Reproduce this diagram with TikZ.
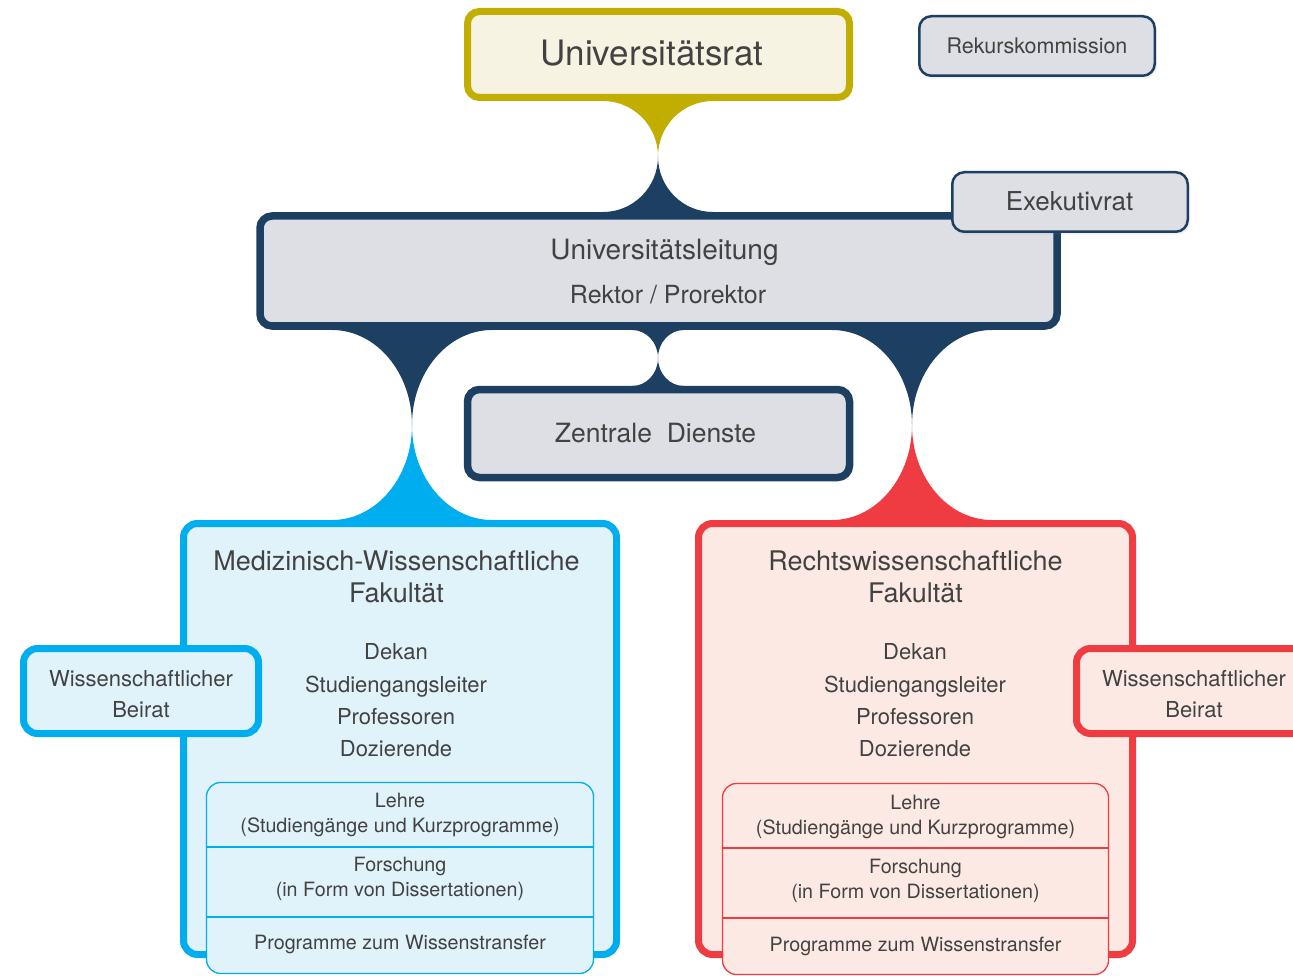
\documentclass[tikz,border=0pt]{standalone}
\usepackage{fontspec}
\setmainfont{TeX Gyre Heros}
\usetikzlibrary{shadows}
\definecolor{colOlive}{RGB}{193,174,0}
\definecolor{colOliveFill}{RGB}{246,243,226}
\definecolor{colNavy}{RGB}{29,63,98}
\definecolor{colGrey}{RGB}{222,223,228}
\definecolor{colCyan}{RGB}{0,174,239}
\definecolor{colCyanFill}{RGB}{224,242,250}
\definecolor{colRed}{RGB}{239,60,66}
\definecolor{colRedFill}{RGB}{252,233,227}
\definecolor{colTxt}{RGB}{66,66,66}
\tikzset{
  box/.style={rounded corners=12pt, inner sep=0pt, anchor=center,
    drop shadow={opacity=0.10, shadow xshift=2pt, shadow yshift=-3pt}},
  boxOlive/.style={box, draw=colOlive, fill=colOliveFill, line width=7pt},
  boxNavyThick/.style={box, draw=colNavy, fill=colGrey, line width=7.5pt},
  boxNavyThin/.style={box, draw=colNavy, fill=colGrey, line width=2.5pt},
  boxCyan/.style={box, draw=colCyan, fill=colCyanFill, line width=7pt, rounded corners=14pt},
  boxRed/.style={box, draw=colRed, fill=colRedFill, line width=7pt, rounded corners=14pt},
  innerCyan/.style={rounded corners=14pt, inner sep=0pt, anchor=center, draw=colCyan, fill=colCyanFill, line width=1.3pt},
  innerRed/.style={rounded corners=14pt, inner sep=0pt, anchor=center, draw=colRed, fill=colRedFill, line width=1.3pt},
  txt/.style={anchor=base, text=colTxt, inner sep=0pt},
  fA/.style={font=\fontsize{35}{42}\selectfont},
  fB/.style={font=\fontsize{28}{34}\selectfont},
  fC/.style={font=\fontsize{26.5}{32}\selectfont},
  fD/.style={font=\fontsize{25}{30}\selectfont},
  fE/.style={font=\fontsize{22}{26}\selectfont},
  fF/.style={font=\fontsize{21.5}{26}\selectfont},
  fG/.style={font=\fontsize{19.7}{24}\selectfont},
  fTitle/.style={font=\fontsize{27}{32}\selectfont},
  fExe/.style={font=\fontsize{26}{31}\selectfont},
}
\begin{document}
\begin{tikzpicture}[x=1pt,y=-1pt]
\useasboundingbox (0,0) rectangle (1293,976);
\clip (0,0) rectangle (1293,976);

% ---- connectors ----
% Universitaetsrat -> Universitaetsleitung
\fill[colOlive] (603,95) -- (603,101) .. controls (633.4,101) and (658,125.8) .. (658,156.5)
  .. controls (658,125.8) and (682.6,101) .. (713,101) -- (713,95) -- cycle;
\fill[colNavy] (603,218) -- (603,212) .. controls (633.4,212) and (658,187.2) .. (658,156.5)
  .. controls (658,187.2) and (682.6,212) .. (713,212) -- (713,218) -- cycle;
% Universitaetsleitung -> Zentrale Dienste
\fill[colNavy] (632,324) -- (632,330) .. controls (646.4,330) and (658,342.5) .. (658,358)
  .. controls (658,342.5) and (669.6,330) .. (684,330) -- (684,324) -- cycle;
\fill[colNavy] (632,392) -- (632,386) .. controls (646.4,386) and (658,373.5) .. (658,358)
  .. controls (658,373.5) and (669.6,386) .. (684,386) -- (684,392) -- cycle;
% Universitaetsleitung -> Med. Fakultaet
\fill[colNavy] (332,324) -- (332,330) .. controls (376.2,330) and (412,372.5) .. (412,425)
  .. controls (412,372.5) and (447.8,330) .. (492,330) -- (492,324) -- cycle;
\fill[colCyan] (332,526) -- (332,520) .. controls (376.2,520) and (412,477.5) .. (412,425)
  .. controls (412,477.5) and (447.8,520) .. (492,520) -- (492,526) -- cycle;
% Universitaetsleitung -> Rechts. Fakultaet
\fill[colNavy] (832,324) -- (832,330) .. controls (876.2,330) and (912,372.5) .. (912,425)
  .. controls (912,372.5) and (947.8,330) .. (992,330) -- (992,324) -- cycle;
\fill[colRed] (832,526) -- (832,520) .. controls (876.2,520) and (912,477.5) .. (912,425)
  .. controls (912,477.5) and (947.8,520) .. (992,520) -- (992,526) -- cycle;

% ---- boxes ----
\node[boxNavyThick, minimum width=797pt, minimum height=110pt] (ul) at (658.5,271) {};
\node[boxNavyThin, minimum width=235.5pt, minimum height=59.5pt] (exe) at (1070,202) {};
\node[boxOlive, minimum width=382pt, minimum height=86pt] (rat) at (658.5,54.5) {};
\node[boxNavyThin, minimum width=235.5pt, minimum height=59.5pt] (rek) at (1037,46) {};
\node[boxNavyThick, minimum width=382pt, minimum height=88pt] (zd) at (658.5,433.5) {};
\node[boxCyan, minimum width=433pt, minimum height=431pt] (med) at (400,739) {};
\node[boxRed, minimum width=434pt, minimum height=431pt] (rw) at (915.5,739) {};
\node[boxCyan, minimum width=235pt, minimum height=85pt] (beiL) at (141,691) {};
\node[boxRed, minimum width=235pt, minimum height=85pt] (beiR) at (1194,691) {};
\node[innerCyan, minimum width=387pt, minimum height=191pt] (inL) at (400,878) {};
\node[innerRed, minimum width=386pt, minimum height=191pt] (inR) at (915.5,879) {};
\coordinate (d1) at (0,847);
\coordinate (d2) at (0,917);
\coordinate (d3) at (0,848);
\coordinate (d4) at (0,918);
\draw[colCyan, line width=1.2pt] (inL.west |- d1) -- (inL.east |- d1);
\draw[colCyan, line width=1.2pt] (inL.west |- d2) -- (inL.east |- d2);
\draw[colRed, line width=1.2pt] (inR.west |- d3) -- (inR.east |- d3);
\draw[colRed, line width=1.2pt] (inR.west |- d4) -- (inR.east |- d4);

% ---- texts ----
\node[txt,fA] (tRat) at (652,65.6) {Universitätsrat};
\node[txt,fF] (tRek) at (1037,53.7) {Rekurskommission};
\node[txt,fExe] (tExe) at (1069.5,210.4) {Exekutivrat};
\node[txt,fB] (tUL) at (664.5,260) {Universitätsleitung};
\node[txt,fD] (tRP) at (668,304) {Rektor / Prorektor};
\node[txt,fC] (tZD) at (655.5,442.5) {Zentrale\ \ Dienste};

\node[txt,fTitle] (tMed1) at (396.5,570.7) {Medizinisch-Wissenschaftliche};
\node[txt,fTitle] (tMed2) at (396.5,602.7) {Fakultät};
\node[txt,fE] (tMedA) at (396,659) {Dekan};
\node[txt,fE] (tMedB) at (396,692) {Studiengangsleiter};
\node[txt,fE] (tMedC) at (396,724) {Professoren};
\node[txt,fE] (tMedD) at (396,756) {Dozierende};

\node[txt,fTitle] (tRw1) at (915.5,570.7) {Rechtswissenschaftliche};
\node[txt,fTitle] (tRw2) at (915.5,602.7) {Fakultät};
\node[txt,fE] (tRwA) at (915,659) {Dekan};
\node[txt,fE] (tRwB) at (915,692) {Studiengangsleiter};
\node[txt,fE] (tRwC) at (915,724) {Professoren};
\node[txt,fE] (tRwD) at (915,756) {Dozierende};

\node[txt,fE] (tBL1) at (141,686) {Wissenschaftlicher};
\node[txt,fE] (tBL2) at (141,717) {Beirat};
\node[txt,fE] (tBR1) at (1194,686) {Wissenschaftlicher};
\node[txt,fE] (tBR2) at (1194,717) {Beirat};

\node[txt,fG] (tLL1) at (400,807) {Lehre};
\node[txt,fG] (tLL2) at (400,832) {(Studiengänge und Kurzprogramme)};
\node[txt,fG] (tLF1) at (400,871) {Forschung};
\node[txt,fG] (tLF2) at (400,896) {(in Form von Dissertationen)};
\node[txt,fG] (tLP) at (400,949) {Programme zum Wissenstransfer};

\node[txt,fG] (tRL1) at (915.5,809) {Lehre};
\node[txt,fG] (tRL2) at (915.5,834) {(Studiengänge und Kurzprogramme)};
\node[txt,fG] (tRF1) at (915.5,873) {Forschung};
\node[txt,fG] (tRF2) at (915.5,898) {(in Form von Dissertationen)};
\node[txt,fG] (tRP2) at (915.5,951) {Programme zum Wissenstransfer};
\end{tikzpicture}
\end{document}
